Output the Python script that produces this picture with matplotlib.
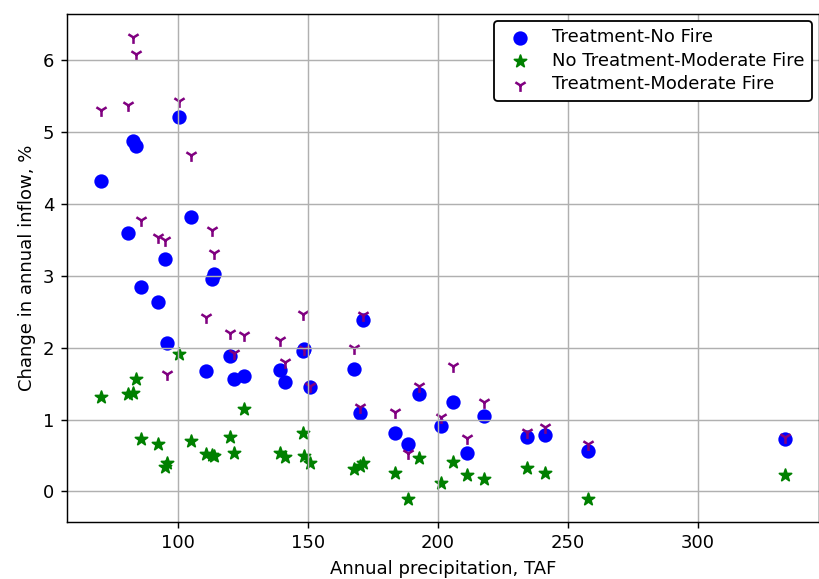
import matplotlib
matplotlib.use("Agg")
import matplotlib.pyplot as plt

# Annual precipitation (TAF) for each simulated year
precip = [70.5, 80.8, 82.8, 84.0, 85.8, 92.3, 95.0, 95.9, 100.5, 105.1,
          111.0, 113.1, 113.8, 119.9, 121.6, 125.5, 139.3, 141.1, 148.0, 148.6,
          150.8, 167.8, 170.2, 171.3, 183.4, 188.4, 192.9, 201.3, 205.7, 211.1,
          217.6, 234.2, 241.3, 257.7, 333.5]

# Change in annual inflow (%) per scenario
treat_no_fire = [4.32, 3.60, 4.87, 4.80, 2.84, 2.63, 3.23, 2.07, 5.21, 3.82,
                 1.67, 2.96, 3.02, 1.89, 1.56, 1.60, 1.69, 1.52, 1.96, 1.98,
                 1.45, 1.70, 1.09, 2.38, 0.81, 0.66, 1.35, 0.91, 1.25, 0.54,
                 1.05, 0.75, 0.79, 0.56, 0.73]
no_treat_mod_fire = [1.32, 1.36, 1.37, 1.57, 0.73, 0.66, 0.34, 0.39, 1.91, 0.70,
                     0.52, 0.50, 0.49, 0.75, 0.54, 1.14, 0.54, 0.48, 0.81, 0.49,
                     0.40, 0.31, 0.36, 0.40, 0.25, -0.10, 0.46, 0.12, 0.41, 0.23,
                     0.17, 0.32, 0.25, -0.10, 0.23]
treat_mod_fire = [5.31, 5.37, 6.32, 6.09, 3.78, 3.54, 3.50, 1.63, 5.43, 4.68,
                  2.43, 3.64, 3.31, 2.21, 1.93, 2.17, 2.11, 1.80, 2.47, 1.98,
                  1.47, 1.99, 1.18, 2.45, 1.11, 0.54, 1.46, 1.04, 1.75, 0.74,
                  1.25, 0.83, 0.89, 0.66, 0.75]

fig = plt.figure(figsize=(8.19 / 1.3, 5.79 / 1.3), dpi=130)
ax = fig.add_axes([0.0818, 0.099, 0.9182, 0.8768])

ax.scatter(precip, treat_no_fire, s=48, marker="o", color="blue",
           label="Treatment-No Fire")
ax.scatter(precip, no_treat_mod_fire, s=50, marker="*", color="green",
           label="No Treatment-Moderate Fire")
ax.scatter(precip, treat_mod_fire, s=50, marker="1", color="purple",
           linewidths=1.4, label="Treatment-Moderate Fire")

ax.set_xlabel("Annual precipitation, TAF")
ax.set_ylabel("Change in annual inflow, %")
ax.grid(True)
leg = ax.legend(loc="upper right", framealpha=1, labelspacing=0.3,
                borderaxespad=0.4)
leg.get_frame().set_edgecolor("black")

fig.savefig("out.png", dpi=130)
